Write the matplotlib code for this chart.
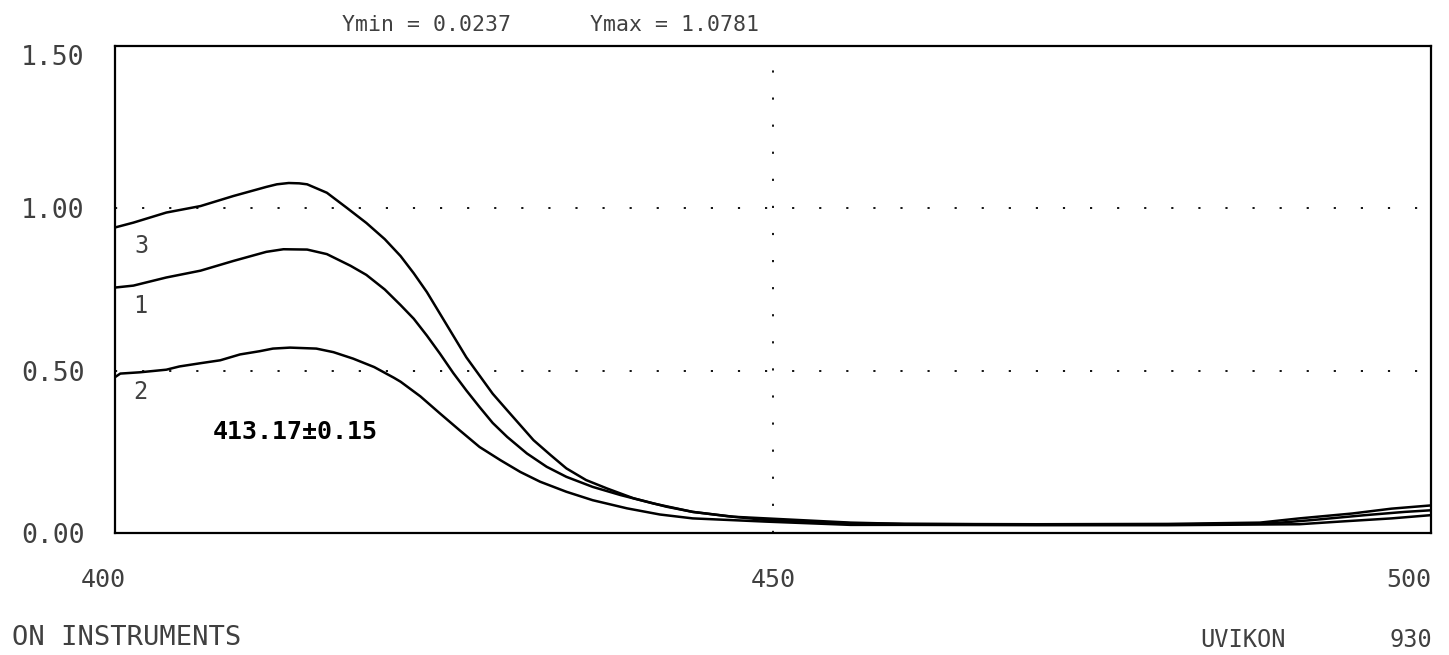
import matplotlib
matplotlib.use('Agg')
import matplotlib.pyplot as plt
import matplotlib.transforms as mtransforms

# spectra (wavelength nm, absorbance)
wl_3 = [400.0, 401.4, 403.9, 406.5, 409.0, 411.5, 412.3, 413.2, 414.0, 414.6, 416.1, 417.6,
        419.1, 420.5, 421.7, 422.7, 423.7, 424.7, 425.7, 426.7, 427.7, 428.7, 429.8, 430.8,
        431.8, 433.1, 434.3, 435.8, 437.4, 439.4, 441.9, 443.9, 446.5, 449.5, 455.9, 460.0,
        470.0, 480.0, 487.0, 490.0, 494.0, 497.0, 500.0]
abs_3 = [0.941, 0.956, 0.987, 1.007, 1.038, 1.066, 1.074, 1.078, 1.077, 1.074, 1.048, 1.002,
         0.955, 0.905, 0.853, 0.800, 0.742, 0.675, 0.608, 0.541, 0.485, 0.429, 0.378, 0.332,
         0.286, 0.240, 0.199, 0.163, 0.137, 0.107, 0.081, 0.065, 0.052, 0.040, 0.030, 0.028,
         0.027, 0.028, 0.032, 0.045, 0.060, 0.075, 0.085]

wl_1 = [400.0, 401.4, 403.9, 406.5, 409.0, 411.5, 412.8, 414.6, 416.1, 417.9, 419.1, 420.5,
        421.7, 422.7, 423.7, 424.7, 425.7, 426.7, 427.7, 428.7, 429.8, 431.3, 432.8, 434.3,
        436.3, 438.4, 440.9, 443.9, 447.0, 455.9, 460.0, 470.0, 480.0, 488.0, 491.0, 495.0,
        498.0, 500.0]
abs_1 = [0.756, 0.762, 0.787, 0.808, 0.838, 0.866, 0.874, 0.873, 0.859, 0.823, 0.795, 0.750,
         0.702, 0.660, 0.608, 0.552, 0.493, 0.439, 0.388, 0.339, 0.296, 0.245, 0.204, 0.173,
         0.142, 0.117, 0.091, 0.065, 0.050, 0.032, 0.028, 0.026, 0.026, 0.030, 0.040, 0.055,
         0.065, 0.070]

wl_2 = [400.0, 400.4, 401.9, 403.9, 404.9, 406.5, 408.0, 409.5, 411.0, 412.0, 413.3, 415.3,
        416.6, 418.1, 419.7, 421.2, 421.7, 423.2, 424.7, 426.2, 427.7, 429.3, 430.8, 432.3,
        434.3, 436.3, 438.9, 441.4, 443.9, 449.5, 455.9, 460.0, 470.0, 480.0, 490.0, 493.0,
        497.0, 500.0]
abs_2 = [0.480, 0.491, 0.495, 0.503, 0.513, 0.523, 0.532, 0.550, 0.560, 0.568, 0.571, 0.568,
         0.557, 0.537, 0.511, 0.478, 0.466, 0.421, 0.368, 0.316, 0.265, 0.224, 0.188, 0.158,
         0.127, 0.101, 0.076, 0.057, 0.045, 0.035, 0.025, 0.025, 0.024, 0.024, 0.027, 0.035,
         0.045, 0.055]

x_ticks = [400, 450, 500]
y_ticks = [0.0, 0.5, 1.0, 1.5]
y_ticklabels = ['0.00', '0.50', '1.00', '1.50']

W, H = 1449, 655
fig = plt.figure(figsize=(W / 100, H / 100), dpi=100)
ax = fig.add_axes([115 / W, 1 - 533 / H, (1431 - 115) / W, (533 - 46) / H])

mono = 'DejaVu Sans Mono'
txt_col = '#404040'

for wl, a in [(wl_3, abs_3), (wl_1, abs_1), (wl_2, abs_2)]:
    ax.plot(wl, a, color='black', lw=1.8)

# dotted grid at 0.5, 1.0 and 450 only
for yv in [0.5, 1.0]:
    ax.axhline(yv, color='black', lw=1.3, linestyle=(0, (1.2, 13.8)))
ax.axvline(450, color='black', lw=1.3, linestyle=(0, (1.2, 13.8)))

ax.set_xlim(400, 500)
ax.set_ylim(0, 1.5)
for s in ax.spines.values():
    s.set_linewidth(1.6)

ax.set_xticks(x_ticks)
ax.set_xticklabels([str(v) for v in x_ticks], fontfamily=mono, fontsize=18, color=txt_col)
ax.set_yticks(y_ticks)
ax.set_yticklabels(y_ticklabels, fontfamily=mono, fontsize=19, color=txt_col)
ax.tick_params(axis='x', length=0, pad=25)
ax.tick_params(axis='y', length=0, pad=22)
xl = ax.get_xticklabels()
xl[-1].set_ha('right')
xl[0].set_transform(xl[0].get_transform() + mtransforms.ScaledTranslation(-12 / 100, 0, fig.dpi_scale_trans))
yl = ax.get_yticklabels()
yl[-1].set_transform(yl[-1].get_transform() + mtransforms.ScaledTranslation(0, -9 / 100, fig.dpi_scale_trans))

# curve numbers and peak label
ax.text(402.0, 0.885, '3', fontfamily=mono, fontsize=17, color=txt_col, ha='center', va='center')
ax.text(401.9, 0.700, '1', fontfamily=mono, fontsize=17, color=txt_col, ha='center', va='center')
ax.text(401.9, 0.433, '2', fontfamily=mono, fontsize=17, color=txt_col, ha='center', va='center')
ax.text(413.7, 0.31, '413.17±0.15', fontfamily=mono, fontsize=18, color='black',
        ha='center', va='center', fontweight='bold')

# header and footer
fig.text(342 / W, 1 - 25 / H, 'Ymin = 0.0237', fontfamily=mono, fontsize=15.5, color=txt_col, va='center')
fig.text(590 / W, 1 - 25 / H, 'Ymax = 1.0781', fontfamily=mono, fontsize=15.5, color=txt_col, va='center')
fig.text(12 / W, 1 - 638 / H, 'ON INSTRUMENTS', fontfamily=mono, fontsize=19.5, color=txt_col, va='center')
fig.text(1200 / W, 1 - 640 / H, 'UVIKON', fontfamily=mono, fontsize=17, color=txt_col, va='center')
fig.text(1432 / W, 1 - 640 / H, '930', fontfamily=mono, fontsize=17, color=txt_col, va='center', ha='right')

fig.savefig('out.png', dpi=100)
